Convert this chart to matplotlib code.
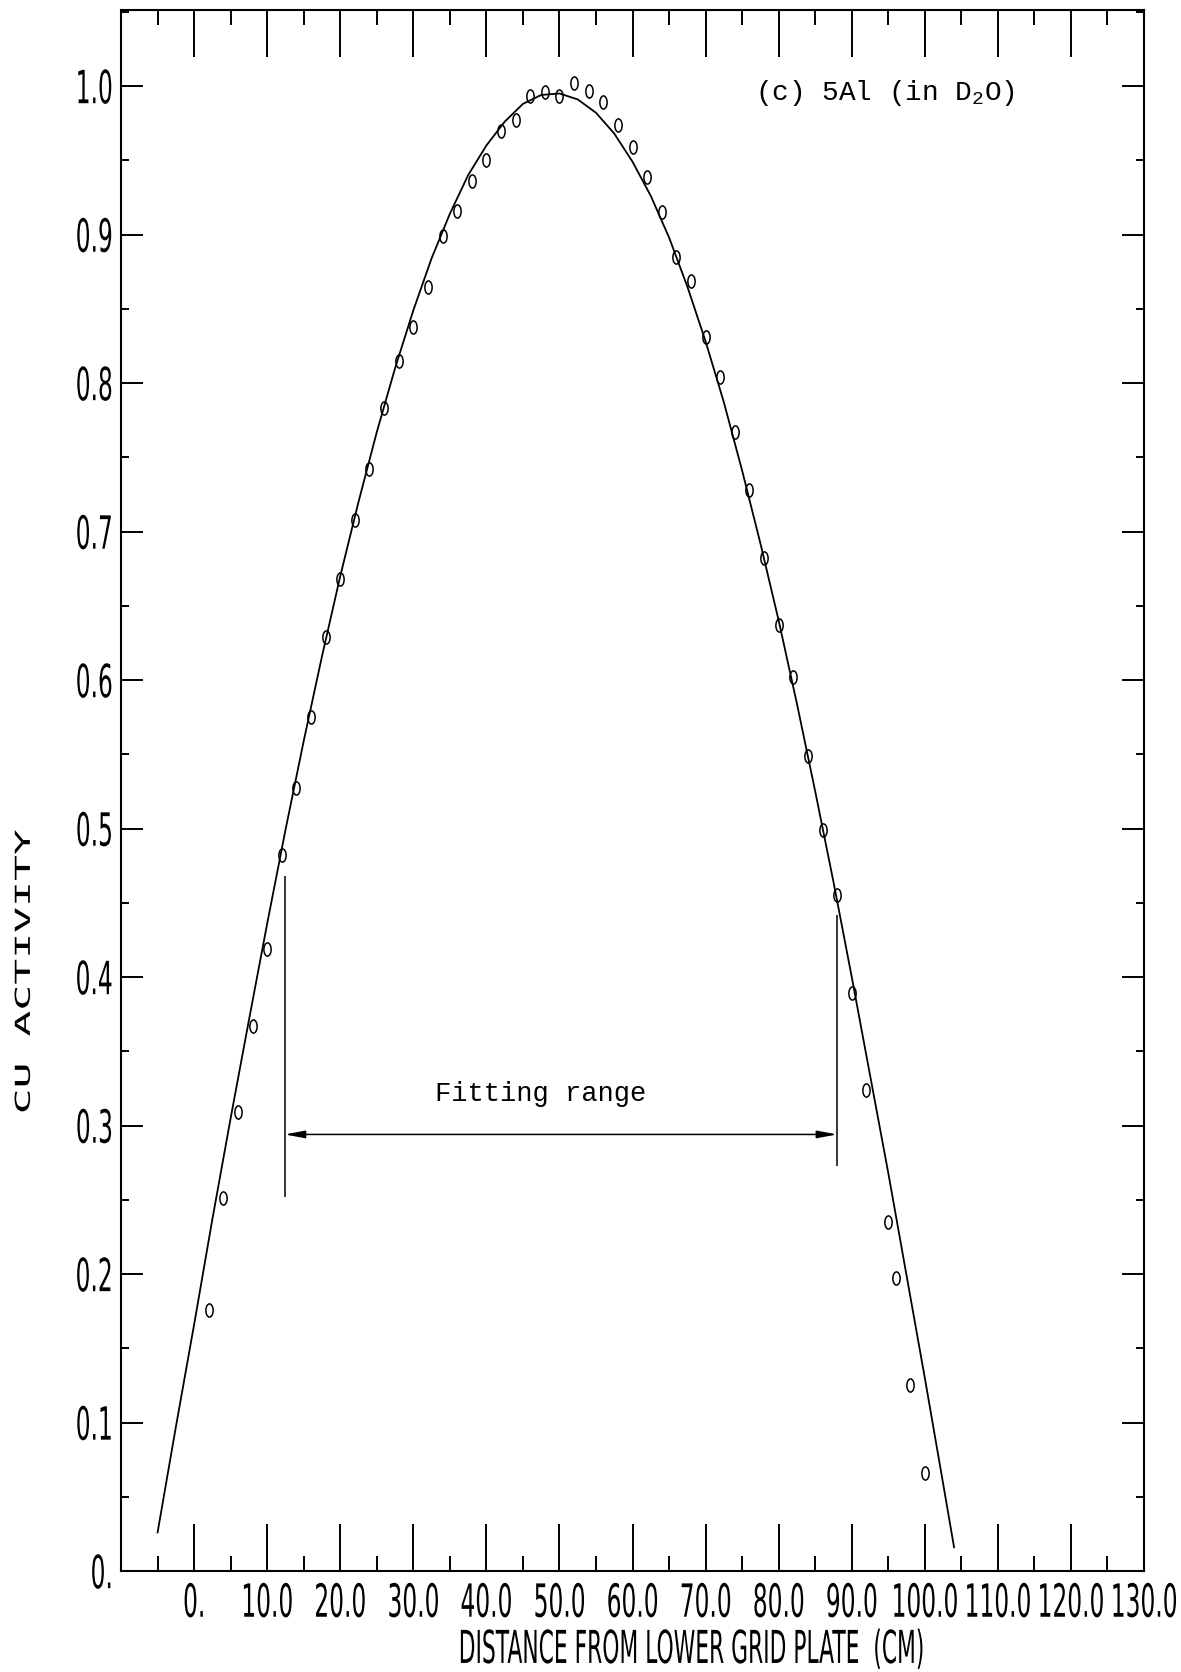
import matplotlib
matplotlib.use("Agg")
import matplotlib.pyplot as plt
import matplotlib.patheffects as pe
from matplotlib.path import Path
from matplotlib.transforms import Affine2D

# Cu activity traverse, 5Al (in D2O)
dist_cm = [2, 4, 6, 8, 10, 12, 14, 16, 18, 20, 22, 24, 26, 28, 30, 32, 34, 36, 38, 40,
           42, 44, 46, 48, 50, 52, 54, 56, 58, 60, 62, 64, 66, 68, 70, 72, 74, 76, 78, 80,
           82, 84, 86, 88, 90, 92, 95, 96, 98, 100]
activity = [0.176, 0.251, 0.309, 0.367, 0.419, 0.482, 0.527, 0.575, 0.629, 0.668,
            0.708, 0.742, 0.783, 0.815, 0.838, 0.865, 0.899, 0.916, 0.936, 0.950,
            0.970, 0.977, 0.993, 0.996, 0.993, 1.002, 0.997, 0.989, 0.974, 0.959,
            0.939, 0.915, 0.885, 0.869, 0.831, 0.804, 0.767, 0.728, 0.682, 0.637,
            0.602, 0.549, 0.499, 0.455, 0.389, 0.324, 0.235, 0.197, 0.125, 0.066]

# fitted curve
fit_x = [-5, -2.5, 0, 2.5, 5, 7.5, 10, 12.5, 15, 17.5, 20, 22.5, 25, 27.5, 30, 32.5,
         35, 37.5, 40, 42.5, 45, 47.5, 50, 52.5, 55, 57.5, 60, 62.5, 65, 67.5, 70, 72.5,
         75, 77.5, 80, 82.5, 85, 87.5, 90, 92.5, 95, 97.5, 100, 102.5, 104]
fit_y = [0.026, 0.097, 0.166, 0.237, 0.305, 0.371, 0.436, 0.499, 0.559, 0.616,
         0.670, 0.720, 0.767, 0.810, 0.849, 0.884, 0.914, 0.940, 0.960, 0.976,
         0.988, 0.994, 0.995, 0.991, 0.982, 0.968, 0.949, 0.926, 0.898, 0.865,
         0.828, 0.787, 0.741, 0.692, 0.640, 0.584, 0.525, 0.464, 0.400, 0.334,
         0.268, 0.199, 0.130, 0.059, 0.016]

# fitting range bracket
fit_range = [12.4, 88.0]
bracket_bottom = [0.252, 0.273]
bracket_top = [0.468, 0.442]
arrow_y = 0.294

x_ticks = [-10, 0, 10, 20, 30, 40, 50, 60, 70, 80, 90, 100, 110, 120, 130]
x_tick_labels = ['', '0.', '10.0', '20.0', '30.0', '40.0', '50.0', '60.0', '70.0',
                 '80.0', '90.0', '100.0', '110.0', '120.0', '130.0']
y_ticks = [0.0, 0.1, 0.2, 0.3, 0.4, 0.5, 0.6, 0.7, 0.8, 0.9, 1.0]
y_tick_labels = ['0.', '0.1', '0.2', '0.3', '0.4', '0.5', '0.6', '0.7', '0.8', '0.9', '1.0']


class Stretch(pe.AbstractPathEffect):
    """scale the glyphs in their own frame, to get the tall plotter lettering"""
    def __init__(self, sx=1.0, sy=1.0, ax_="center", ay="center"):
        super().__init__()
        self.sx, self.sy = sx, sy
        self.ax_, self.ay = ax_, ay

    def draw_path(self, renderer, gc, tpath, affine, rgbFace=None):
        e = tpath.get_extents()
        cx = {"left": e.x0, "center": 0.5 * (e.x0 + e.x1), "right": e.x1}[self.ax_]
        cy = {"bottom": e.y0, "center": 0.5 * (e.y0 + e.y1), "top": e.y1}[self.ay]
        pre = Affine2D().translate(-cx, -cy).scale(self.sx, self.sy).translate(cx, cy)
        renderer.draw_path(gc, tpath, pre + affine, rgbFace)


plt.rcParams['mathtext.fontset'] = 'custom'
plt.rcParams['mathtext.rm'] = 'Liberation Mono'
mono = ['Liberation Mono', 'DejaVu Sans Mono']

fig = plt.figure(figsize=(11.81, 16.72), dpi=100)
ax = fig.add_axes([0.1025, 0.0604, 0.8662, 0.9336])

# data points drawn as little upright ovals
oval = Path.unit_circle().transformed(Affine2D().scale(0.55, 1.0))
ax.plot(fit_x, fit_y, color='black', lw=1.3)
ax.plot(dist_cm, activity, linestyle='none', marker=oval, markersize=9.5,
        mfc='none', mec='black', mew=1.1)

# fitting range bracket
ax.vlines(fit_range, bracket_bottom, bracket_top, color='black', lw=1.1)
ax.annotate('', xy=(fit_range[0], arrow_y), xytext=(fit_range[1], arrow_y),
            arrowprops=dict(arrowstyle='<|-|>,head_length=0.8,head_width=0.15',
                            mutation_scale=15, lw=1.1, color='black',
                            shrinkA=0, shrinkB=0))
ax.text(47.4, 0.321, 'Fitting range', family=mono, fontsize=19.5,
        ha='center', va='center')
ax.text(76.7, 0.9955, r'(c) 5Al (in D$_\mathregular{2}$O)', family=mono, fontsize=20,
        ha='left', va='center')

ax.set_xlim(-10, 130)
ax.set_ylim(0, 1.0512)
ax.set_xticks(x_ticks)
ax.set_xticklabels(x_tick_labels)
ax.set_xticks([t + 5 for t in x_ticks[:-1]], minor=True)
ax.set_yticks(y_ticks)
ax.set_yticklabels(y_tick_labels)
ax.set_yticks([t + 0.05 for t in y_ticks[:-1]] + [1.05], minor=True)

ax.tick_params(axis='both', which='both', direction='in', top=True, right=True,
               width=1.4, color='black')
ax.tick_params(axis='x', which='major', length=34, pad=8, labelsize=16.8)
ax.tick_params(axis='x', which='minor', length=11)
ax.tick_params(axis='y', which='major', length=16, pad=6, labelsize=16.8)
ax.tick_params(axis='y', which='minor', length=6)
for s in ax.spines.values():
    s.set_linewidth(1.5)

for t in ax.xaxis.get_major_ticks():
    t.label1.set_path_effects([Stretch(sy=1.96, ay="top")])
for t in ax.yaxis.get_major_ticks():
    t.label1.set_path_effects([Stretch(sy=1.96, ax_="right")])

ax.set_xlabel('DISTANCE FROM LOWER GRID PLATE  (CM)', fontsize=15.7, va='top',
              path_effects=[Stretch(sy=2.08, ay="top")])
ax.xaxis.set_label_coords(0.557, -0.0372)

fig.text(26 / 1181, 1 - 972 / 1672, 'CU ACTIVITY', family='DejaVu Sans Mono',
         fontsize=31, rotation=90, ha='center', va='center',
         path_effects=[Stretch(sy=0.48)])

fig.savefig('out.png', dpi=100)
